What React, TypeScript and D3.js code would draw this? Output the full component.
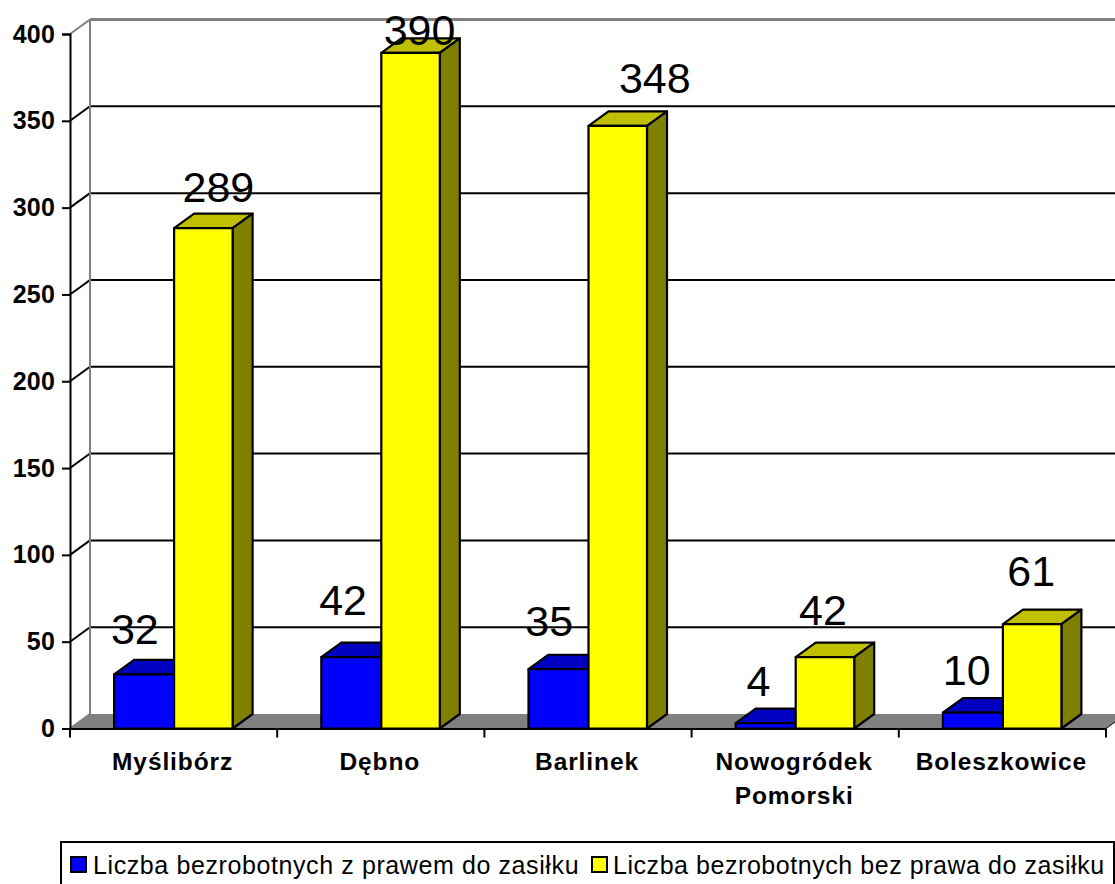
import React, { useEffect, useRef } from "react";
import * as d3 from "d3";

const categories = ["Myślibórz", "Dębno", "Barlinek", "Nowogródek Pomorski", "Boleszkowice"];
const withBenefit = [32, 42, 35, 4, 10];
const withoutBenefit = [289, 390, 348, 42, 61];
const yTicks = [0, 50, 100, 150, 200, 250, 300, 350, 400];
const seriesNames = [
  "Liczba bezrobotnych z prawem do zasiłku",
  "Liczba bezrobotnych bez prawa do zasiłku",
];

// data labels sit at odd places in the source, nudges relative to the bar
const blueNudge = [[-9, 29], [-8, 41], [-9, 32], [-7, 26], [-6, 26]];
const yellowNudge = [[15, 25], [9, 6], [37, 31], [-2, 31], [-1, 37]];

const FONT = "'Liberation Sans', Arial, sans-serif";
const depth = { x: 20, y: -14.5 };
const barDrop = 1.5;

export default function App() {
  const ref = useRef<SVGSVGElement | null>(null);

  useEffect(() => {
    const svg = d3.select(ref.current);
    svg.selectAll("*").remove();

    const x = d3.scaleBand<string>().domain(categories).range([70, 1106]);
    const y = d3.scaleLinear().domain([0, 400]).range([728.5, 34]);
    const y0 = y(0);

    // floor
    svg.append("polygon")
      .attr("points", [
        [70, y0],
        [70 + depth.x, y0 + depth.y],
        [1106 + depth.x, y0 + depth.y],
        [1106, y0],
      ].join(" "))
      .attr("fill", "#808080");

    // back wall and gridlines
    const grid = svg.append("g");
    yTicks.forEach((t) => {
      const col = t === 400 ? "#808080" : t === 0 ? "none" : "#000";
      grid.append("line")
        .attr("x1", 70 + depth.x).attr("x2", 1126)
        .attr("y1", y(t) + depth.y).attr("y2", y(t) + depth.y)
        .attr("stroke", col).attr("stroke-width", t === 400 ? 3 : 2);
      grid.append("line")
        .attr("x1", 70).attr("x2", 70 + depth.x)
        .attr("y1", y(t)).attr("y2", y(t) + depth.y)
        .attr("stroke", t === 400 || t === 0 ? "#808080" : "#000").attr("stroke-width", 2);
    });
    grid.append("line")
      .attr("x1", 70 + depth.x).attr("x2", 70 + depth.x)
      .attr("y1", y(400) + depth.y).attr("y2", y0 + depth.y)
      .attr("stroke", "#808080").attr("stroke-width", 2);
    grid.append("line")
      .attr("x1", 1106).attr("x2", 1126)
      .attr("y1", y0).attr("y2", y0 + depth.y)
      .attr("stroke", "#000").attr("stroke-width", 1);

    // 3d bars
    const drawBar = (left: number, right: number, value: number, front: string, top: string, side: string) => {
      const t = y(value) + barDrop;
      const g = svg.append("g").attr("stroke", "#000").attr("stroke-width", 2.2).attr("stroke-linejoin", "round");
      g.append("polygon")
        .attr("points", [[left, t], [left + depth.x, t + depth.y], [right + depth.x, t + depth.y], [right, t]].join(" "))
        .attr("fill", top);
      g.append("polygon")
        .attr("points", [[right, t], [right + depth.x, t + depth.y], [right + depth.x, y0 + depth.y], [right, y0]].join(" "))
        .attr("fill", side);
      g.append("rect")
        .attr("x", left).attr("y", t)
        .attr("width", right - left).attr("height", y0 - t)
        .attr("fill", front);
    };

    const barW = 59.5;
    categories.forEach((c, i) => {
      const mid = (x(c) as number) + x.bandwidth() / 2;
      drawBar(mid - barW, mid + 0.5, withBenefit[i], "#0000ff", "#0000c0", "#000080");
      drawBar(mid + 0.5, mid + barW - 0.5, withoutBenefit[i], "#ffff00", "#c0c000", "#808000");
    });

    // data labels
    const labelSize = 43;
    categories.forEach((c, i) => {
      const mid = (x(c) as number) + x.bandwidth() / 2;
      [
        { v: withBenefit[i], cx: mid - barW / 2, n: blueNudge[i] },
        { v: withoutBenefit[i], cx: mid + barW / 2, n: yellowNudge[i] },
      ].forEach(({ v, cx, n }) => {
        svg.append("text")
          .attr("x", cx + n[0])
          .attr("y", y(v) - n[1])
          .attr("text-anchor", "middle")
          .attr("font-family", FONT)
          .attr("font-size", labelSize)
          .attr("fill", "#000")
          .text(v);
      });
    });

    // axes
    const yAxis = d3.axisLeft(y).tickValues(yTicks).tickSize(8).tickPadding(7);
    const yG = svg.append("g").attr("transform", "translate(70,0)").call(yAxis as any);
    yG.select(".domain").attr("stroke", "#000").attr("stroke-width", 2);
    yG.selectAll(".tick line").attr("stroke", "#000").attr("stroke-width", 2);
    yG.selectAll("text")
      .attr("font-family", FONT).attr("font-size", 25).attr("font-weight", 700)
      .attr("letter-spacing", 0.2)
      .attr("fill", "#000");

    const xAxis = d3.axisBottom(x).tickSize(0).tickFormat(() => "");
    const xG = svg.append("g").attr("transform", `translate(0,${y0})`).call(xAxis as any);
    xG.select(".domain").attr("stroke", "#000").attr("stroke-width", 2);
    [...categories.map((c) => x(c) as number), 1106].forEach((p) => {
      xG.append("line").attr("x1", p).attr("x2", p).attr("y1", 0).attr("y2", 9)
        .attr("stroke", "#000").attr("stroke-width", 2);
    });

    const wrapped: Record<string, string[]> = { "Nowogródek Pomorski": ["Nowogródek", "Pomorski"] };
    categories.forEach((c) => {
      const lines = wrapped[c] ?? [c];
      lines.forEach((l, j) => {
        svg.append("text")
          .attr("x", (x(c) as number) + x.bandwidth() / 2 - 1)
          .attr("y", 770 + j * 33.5)
          .attr("text-anchor", "middle")
          .attr("font-family", FONT).attr("font-size", 24.5).attr("font-weight", 700)
          .attr("letter-spacing", 0.9)
          .text(l);
      });
    });

    // legend runs off the bottom of the picture
    const legend = svg.append("g");
    legend.append("rect")
      .attr("x", 61).attr("y", 842).attr("width", 1053).attr("height", 60)
      .attr("fill", "#fff").attr("stroke", "#000").attr("stroke-width", 2);
    [
      { sx: 71, tx: 93, col: "#0000ff", ls: 0.6 },
      { sx: 592, tx: 613, col: "#ffff00", ls: 0.55 },
    ].forEach((e, i) => {
      legend.append("rect")
        .attr("x", e.sx).attr("y", 857).attr("width", 15).attr("height", 15)
        .attr("fill", e.col).attr("stroke", "#000").attr("stroke-width", 2);
      legend.append("text")
        .attr("x", e.tx).attr("y", 874)
        .attr("font-family", FONT).attr("font-size", 25)
        .attr("letter-spacing", e.ls)
        .text(seriesNames[i]);
    });
  }, []);

  return (
    <svg
      ref={ref}
      width={1115}
      height={884}
      style={{ position: "absolute", left: 0, top: 0, background: "#fff" }}
    />
  );
}
